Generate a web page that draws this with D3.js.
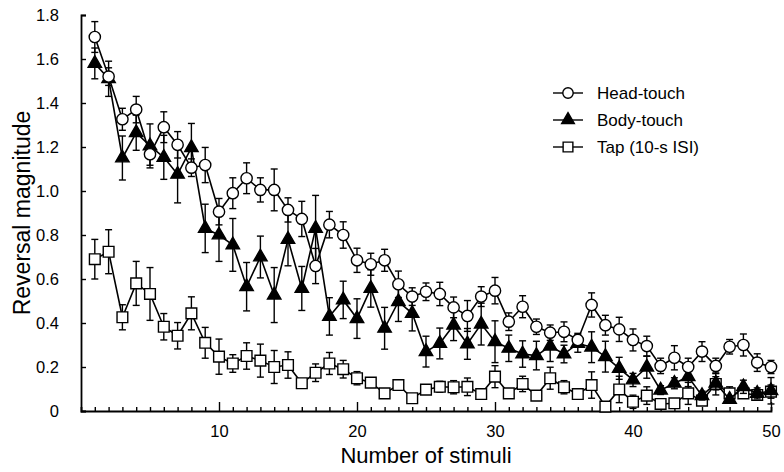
<!DOCTYPE html>
<html><head><meta charset="utf-8">
<script src="https://cdn.jsdelivr.net/npm/d3@7"></script>
<style>body{margin:0;background:#fff}svg{display:block}</style>
</head><body><svg id="c" width="784" height="472"></svg>
<script>
const stimuli = [1,2,3,4,5,6,7,8,9,10,11,12,13,14,15,16,17,18,19,20,21,22,23,24,25,26,27,28,29,30,31,32,33,34,35,36,37,38,39,40,41,42,43,44,45,46,47,48,49,50];
const headTouch = [1.70,1.52,1.326,1.37,1.167,1.29,1.21,1.106,1.118,0.906,0.99,1.058,1.005,1.005,0.914,0.873,0.659,0.847,0.80,0.685,0.667,0.685,0.576,0.52,0.542,0.532,0.471,0.432,0.52,0.547,0.406,0.474,0.383,0.356,0.36,0.323,0.482,0.39,0.371,0.323,0.295,0.205,0.242,0.20,0.27,0.205,0.292,0.30,0.22,0.20];
const headErr = [0.07,0.04,0.05,0.06,0.05,0.07,0.06,0.04,0.08,0.06,0.07,0.07,0.055,0.095,0.055,0.08,0.08,0.06,0.06,0.055,0.05,0.05,0.06,0.04,0.04,0.053,0.047,0.07,0.045,0.06,0.04,0.05,0.035,0.035,0.045,0.03,0.055,0.045,0.055,0.05,0.045,0.035,0.055,0.04,0.045,0.035,0.033,0.05,0.04,0.03];
const bodyTouch = [1.58,1.51,1.15,1.265,1.205,1.153,1.076,1.197,0.83,0.80,0.755,0.565,0.70,0.527,0.78,0.557,0.83,0.43,0.505,0.42,0.557,0.376,0.497,0.444,0.27,0.307,0.39,0.305,0.395,0.315,0.285,0.259,0.252,0.295,0.259,0.307,0.29,0.247,0.194,0.141,0.199,0.095,0.126,0.156,0.07,0.126,0.053,0.11,0.08,0.092];
const bodyErr = [0.07,0.08,0.10,0.08,0.10,0.10,0.13,0.11,0.11,0.12,0.12,0.11,0.095,0.125,0.12,0.10,0.15,0.085,0.085,0.09,0.085,0.095,0.09,0.08,0.07,0.07,0.07,0.07,0.095,0.095,0.06,0.06,0.065,0.07,0.04,0.04,0.07,0.07,0.05,0.03,0.05,0.02,0.025,0.045,0.02,0.03,0.015,0.03,0.025,0.06];
const tap = [0.69,0.724,0.426,0.58,0.532,0.383,0.342,0.444,0.31,0.247,0.216,0.25,0.229,0.20,0.209,0.126,0.174,0.216,0.19,0.149,0.129,0.08,0.118,0.058,0.097,0.11,0.108,0.11,0.077,0.156,0.08,0.123,0.07,0.149,0.108,0.077,0.118,0.02,0.098,0.042,0.07,0.032,0.035,0.08,0.047,0.123,0.08,0.08,0.073,0.088];
const tapErr = [0.09,0.10,0.057,0.10,0.12,0.06,0.06,0.075,0.07,0.08,0.04,0.06,0.075,0.075,0.06,0.02,0.04,0.05,0.04,0.03,0.02,0.015,0.02,0.02,0.02,0.025,0.03,0.04,0.02,0.05,0.02,0.035,0.02,0.05,0.03,0.02,0.06,0.02,0.06,0.03,0.04,0.02,0.02,0.05,0.02,0.05,0.03,0.02,0.02,0.03];
const yTicks = [0,0.2,0.4,0.6,0.8,1.0,1.2,1.4,1.6,1.8];
const yTickLabels = ["0","0.2","0.4","0.6","0.8","1.0","1.2","1.4","1.6","1.8"];
const xMajorTicks = [10,20,30,40,50];
const seriesNames = ["Head-touch","Body-touch","Tap (10-s ISI)"];

const svg = d3.select("#c");
const FONT = "'Liberation Sans', Arial, Helvetica, sans-serif";
const x = d3.scaleLinear().domain([0,50]).range([81,771]);
const y = d3.scaleLinear().domain([0,1.8]).range([411,15]);

// Axes
const gx = svg.append("g").attr("transform","translate(0,411)");
gx.call(d3.axisBottom(x).tickValues(stimuli.filter(d=>!xMajorTicks.includes(d))).tickSize(-4).tickFormat(""));
gx.append("g").call(d3.axisBottom(x).tickValues(xMajorTicks).tickSize(-9).tickPadding(14).tickFormat(d3.format("d")));
gx.selectAll(".domain").attr("stroke","#000").attr("stroke-width",1.8);
gx.selectAll(".tick line").attr("stroke","#000").attr("stroke-width",1.4);
gx.selectAll(".tick text").attr("font-family",FONT).attr("font-size",16.5).attr("fill","#000");
gx.selectAll("g > g .domain").remove();

const gy = svg.append("g").attr("transform","translate(81,0)");
gy.call(d3.axisLeft(y).tickValues(yTicks).tickSize(-5).tickPadding(22).tickFormat((d,i)=>yTickLabels[i]));
gy.selectAll(".domain").attr("stroke","#000").attr("stroke-width",1.8);
gy.selectAll(".tick line").attr("stroke","#000").attr("stroke-width",1.4);
gy.selectAll(".tick text").attr("font-family",FONT).attr("font-size",16.5).attr("fill","#000");

svg.append("text").attr("x",426).attr("y",463).attr("text-anchor","middle")
  .attr("font-family",FONT).attr("font-size",22).text("Number of stimuli");
svg.append("text").attr("transform","translate(30,213) rotate(-90)").attr("text-anchor","middle")
  .attr("font-family",FONT).attr("font-size",23).text("Reversal magnitude");

const series = [
  {name:seriesNames[2], vals:tap, err:tapErr, sym:d3.symbolSquare, size:115, fill:"#fff"},
  {name:seriesNames[1], vals:bodyTouch, err:bodyErr, sym:d3.symbolTriangle, size:78, fill:"#000"},
  {name:seriesNames[0], vals:headTouch, err:headErr, sym:d3.symbolCircle, size:100, fill:"#fff"}
];

const line = d3.line().x((d,i)=>x(stimuli[i])).y(d=>y(d));
series.forEach(s=>{
  const g = svg.append("g");
  g.append("path").attr("d",line(s.vals)).attr("fill","none").attr("stroke","#000").attr("stroke-width",1.6);
  const eb = g.append("g").selectAll("g").data(s.vals).join("g");
  eb.append("line").attr("x1",(d,i)=>x(stimuli[i])).attr("x2",(d,i)=>x(stimuli[i]))
    .attr("y1",(d,i)=>y(d+s.err[i])).attr("y2",(d,i)=>y(Math.max(0,d-s.err[i])))
    .attr("stroke","#000").attr("stroke-width",1.4);
  eb.append("line").attr("x1",(d,i)=>x(stimuli[i])-3.5).attr("x2",(d,i)=>x(stimuli[i])+3.5)
    .attr("y1",(d,i)=>y(d+s.err[i])).attr("y2",(d,i)=>y(d+s.err[i])).attr("stroke","#000").attr("stroke-width",1.4);
  eb.append("line").attr("x1",(d,i)=>x(stimuli[i])-3.5).attr("x2",(d,i)=>x(stimuli[i])+3.5)
    .attr("y1",(d,i)=>y(Math.max(0,d-s.err[i]))).attr("y2",(d,i)=>y(Math.max(0,d-s.err[i]))).attr("stroke","#000").attr("stroke-width",1.4);
  g.append("g").selectAll("path").data(s.vals).join("path")
    .attr("d",d3.symbol().type(s.sym).size(s.size))
    .attr("transform",(d,i)=>`translate(${x(stimuli[i])},${y(d)})`)
    .attr("fill",s.fill).attr("stroke","#000").attr("stroke-width",1.4);
});

// Legend
const legend = [
  {name:seriesNames[0], sym:d3.symbolCircle, size:85, fill:"#fff"},
  {name:seriesNames[1], sym:d3.symbolTriangle, size:70, fill:"#000"},
  {name:seriesNames[2], sym:d3.symbolSquare, size:95, fill:"#fff"}
];
const lg = svg.append("g").selectAll("g").data(legend).join("g")
  .attr("transform",(d,i)=>`translate(553,${93+i*27})`);
lg.append("line").attr("x1",0).attr("x2",30).attr("stroke","#000").attr("stroke-width",1.4);
lg.append("path").attr("d",d=>d3.symbol().type(d.sym).size(d.size)()).attr("transform","translate(15,0)")
  .attr("fill",d=>d.fill).attr("stroke","#000").attr("stroke-width",1.4);
lg.append("text").attr("x",44).attr("y",6).attr("font-family",FONT).attr("font-size",17).text(d=>d.name);
</script></body></html>
